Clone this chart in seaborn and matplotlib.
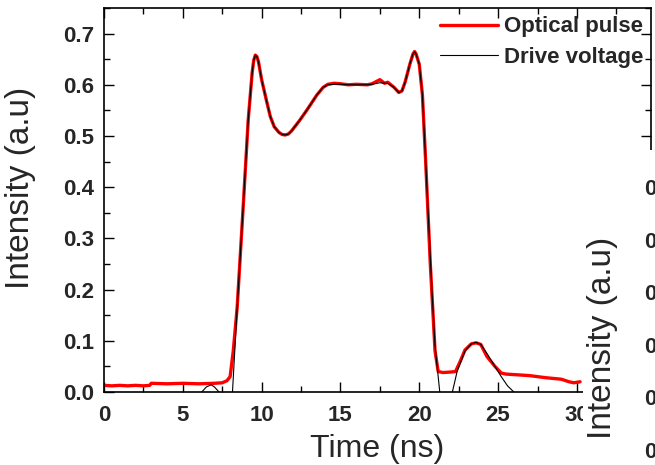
import numpy as np
import pandas as pd
import seaborn as sns
import matplotlib
matplotlib.use("Agg")
import matplotlib.pyplot as plt
from matplotlib.patches import Rectangle
from matplotlib.ticker import MultipleLocator

# ---- data ----
opt_t = [0, 0.5, 1.0, 1.5, 2.0, 2.5, 2.9, 3.0, 4.0, 5.0, 6.0, 7.0, 7.5, 7.8, 8.0,
         8.2, 8.45, 8.83, 9.15, 9.4, 9.5, 9.6, 9.7, 9.8, 10.0, 10.3, 10.55, 10.8,
         11.1, 11.3, 11.5, 11.7, 11.9, 12.4, 12.9, 13.5, 13.9, 14.2, 14.6, 15.0,
         15.5, 16.0, 16.7, 17.0, 17.5, 17.8, 18.0, 18.4, 18.7, 18.9, 19.1, 19.4,
         19.6, 19.7, 19.8, 20.0, 20.2, 20.4, 20.7, 21.0, 21.2, 21.5, 22.0, 22.3,
         22.6, 22.9, 23.3, 23.6, 23.9, 24.3, 24.8, 25.2, 25.5, 26.0, 27.0, 28.0,
         29.0, 29.5, 29.8, 30.2]
opt_v = [0.013, 0.012, 0.013, 0.012, 0.013, 0.012, 0.013, 0.017, 0.016, 0.017,
         0.016, 0.017, 0.018, 0.022, 0.030, 0.080, 0.166, 0.362, 0.532, 0.624,
         0.648, 0.658, 0.655, 0.645, 0.610, 0.570, 0.538, 0.518, 0.507, 0.503,
         0.502, 0.504, 0.510, 0.530, 0.552, 0.580, 0.595, 0.601, 0.603, 0.602,
         0.600, 0.601, 0.600, 0.602, 0.610, 0.603, 0.605, 0.595, 0.585, 0.588,
         0.605, 0.640, 0.660, 0.665, 0.660, 0.640, 0.580, 0.454, 0.250, 0.080,
         0.040, 0.038, 0.039, 0.040, 0.060, 0.082, 0.094, 0.096, 0.093, 0.069,
         0.050, 0.037, 0.035, 0.034, 0.032, 0.028, 0.025, 0.020, 0.018, 0.020]

drv_t = [5.8, 6.2, 6.5, 6.8, 7.0, 7.3, 7.6, 7.9, 8.15, 8.45, 8.83, 9.15, 9.4,
         9.5, 9.6, 9.7, 9.8, 10.0, 10.3, 10.55, 10.8, 11.1, 11.3, 11.5, 11.7,
         11.9, 12.4, 12.9, 13.5, 13.9, 14.2, 14.6, 15.0, 15.5, 16.0, 16.7, 17.0,
         17.5, 17.8, 18.0, 18.4, 18.7, 18.9, 19.1, 19.4, 19.6, 19.7, 19.8, 20.0,
         20.2, 20.4, 20.8, 21.0, 21.3, 21.6, 21.9, 22.1, 22.4, 22.9, 23.3, 23.6,
         23.9, 24.3, 24.8, 25.2, 25.6, 26.0, 26.4]
drv_v = [-0.030, 0.000, 0.010, 0.014, 0.010, 0.000, -0.030, -0.030, 0.000,
         0.166, 0.362, 0.532, 0.624, 0.648, 0.658, 0.655, 0.645, 0.610, 0.570,
         0.538, 0.518, 0.507, 0.503, 0.502, 0.504, 0.510, 0.530, 0.552, 0.580,
         0.595, 0.600, 0.601, 0.601, 0.600, 0.600, 0.600, 0.601, 0.604, 0.603,
         0.603, 0.595, 0.585, 0.588, 0.605, 0.640, 0.660, 0.665, 0.660, 0.640,
         0.580, 0.454, 0.200, 0.090, 0.000, -0.060, -0.060, 0.000, 0.040, 0.080,
         0.094, 0.097, 0.093, 0.075, 0.050, 0.030, 0.012, 0.000, -0.030]

x_ticks = [0, 5, 10, 15, 20, 25, 30]
y_ticks = [0.0, 0.1, 0.2, 0.3, 0.4, 0.5, 0.6, 0.7]
right_panel_ticks = [0.0, 0.1, 0.2, 0.3, 0.4, 0.5]

opt_df = pd.DataFrame({"t": opt_t, "v": opt_v})
drv_df = pd.DataFrame({"t": drv_t, "v": drv_v})

sns.set_style("ticks")
plt.rcParams["font.family"] = ["Liberation Sans", "DejaVu Sans"]

W, H = 655, 465
fig = plt.figure(figsize=(W / 100, H / 100), dpi=100)
ax = fig.add_axes([104 / W, (H - 392) / H, (651 - 104) / W, (392 - 8) / H])

sns.lineplot(data=opt_df, x="t", y="v", ax=ax, color="#ff0000", lw=2.4,
             label="Optical pulse", zorder=2)
sns.lineplot(data=drv_df, x="t", y="v", ax=ax, color="black", lw=0.8,
             label="Drive voltage", zorder=3)
for ln in ax.get_lines():
    ln.set_solid_joinstyle("round")

ax.set_xlim(0, 34.7)
ax.set_ylim(0, 0.75)
ax.set_xticks(x_ticks)
ax.set_yticks(y_ticks)
ax.set_xticklabels([str(v) for v in x_ticks])
ax.set_yticklabels([f"{v:.1f}" for v in y_ticks])
ax.xaxis.set_minor_locator(MultipleLocator(2.5))
ax.yaxis.set_minor_locator(MultipleLocator(0.05))
ax.tick_params(which="both", direction="in", top=True, right=True, width=1,
               color="black")
ax.tick_params(which="major", length=7)
ax.tick_params(which="minor", length=4)
ax.tick_params(axis="x", which="major", pad=9, labelsize=16)
ax.tick_params(axis="y", which="major", pad=7, labelsize=16)
for lab in ax.get_xticklabels() + ax.get_yticklabels():
    lab.set_fontweight("bold")
for sp in ax.spines.values():
    sp.set_linewidth(1.2)
    sp.set_color("black")
ax.set_xlabel("Time (ns)", fontsize=23, labelpad=6)
ax.set_ylabel("Intensity (a.u)", fontsize=24)
ax.yaxis.set_label_coords(36 / W, (H - 188) / H, transform=fig.transFigure)

leg = ax.legend(loc="upper left", bbox_to_anchor=(0.614, 0.978), frameon=False,
                fontsize=16, handlelength=2.6, handletextpad=0.3,
                labelspacing=0.42, borderpad=0, borderaxespad=0)
for txt in leg.get_texts():
    txt.set_fontweight("bold")

# ---- covering panel of the neighbouring chart (cropped in the reference) ----
cover = Rectangle((583 / W, 0), 1 - 583 / W, (H - 150) / H,
                  transform=fig.transFigure, facecolor="white",
                  edgecolor="none", zorder=5)
fig.add_artist(cover)

ax2 = fig.add_axes([682 / W, 15 / H, 0.3, (305 - 15) / H], zorder=6)
ax2.set_ylim(0, 0.5 * 290 / 263)
ax2.set_yticks(right_panel_ticks)
ax2.set_yticklabels([f"{v:.1f}" for v in right_panel_ticks])
ax2.tick_params(axis="y", direction="in", pad=5, labelsize=16)
for lab in ax2.get_yticklabels():
    lab.set_fontweight("bold")
ax2.set_xticks([])
ax2.set_ylabel("Intensity (a.u)", fontsize=24)
ax2.yaxis.set_label_coords(618 / W, (H - 338) / H, transform=fig.transFigure)

fig.savefig("out.png", dpi=100)
